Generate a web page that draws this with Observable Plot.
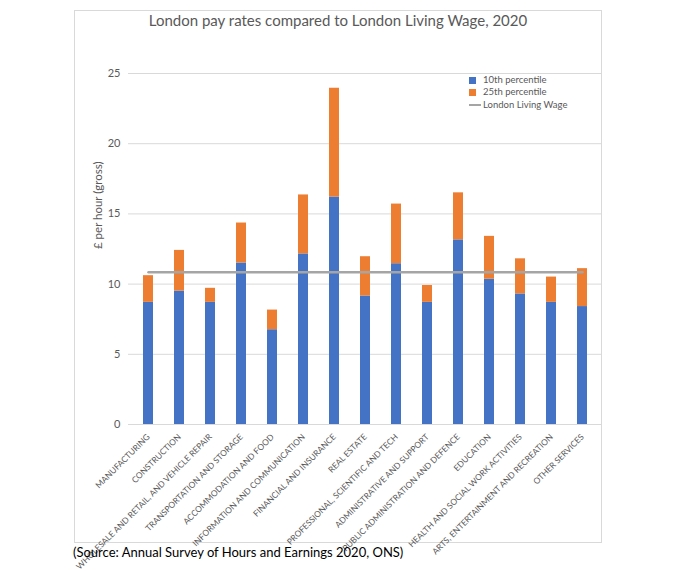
<!DOCTYPE html>
<html>
<head>
<meta charset="utf-8">
<script src="https://cdn.jsdelivr.net/npm/d3@7"></script>
<script src="https://cdn.jsdelivr.net/npm/@observablehq/plot@0.6"></script>
<style>
  body { margin: 0; background: #fff; font-family: Lato, "Open Sans", sans-serif; }
  #wrap { position: relative; width: 675px; height: 571px; overflow: hidden; }
  #frame { position: absolute; left: 74px; top: 10px; width: 528px; height: 533px; border: 1px solid #d9d9d9; box-sizing: border-box; }
  #title { position: absolute; left: 74px; width: 528px; top: 11px; text-align: center; font-size: 15px; color: #595959; }
  #caption { position: absolute; left: 73px; top: 544px; font-size: 13px; color: #000; }
  #legend { position: absolute; left: 469px; top: 74px; font-size: 9.5px; color: #595959; line-height: 12.4px; }
  #legend .row { display: flex; align-items: center; height: 12.4px; }
  #legend .sw { width: 7px; height: 7px; margin-right: 7px; }
  #legend .ln { width: 12px; height: 2.5px; background: #a5a5a5; margin-right: 2px; }
  #chart { position: absolute; left: 0; top: 0; }
</style>
</head>
<body>
<div id="wrap">
  <div id="frame"></div>
  <div id="chart"></div>
  <div id="title">London pay rates compared to London Living Wage, 2020</div>
  <div id="legend"></div>
  <div id="caption">(Source: Annual Survey of Hours and Earnings 2020, ONS)</div>
</div>
<script>
const categories = [
  "MANUFACTURING",
  "CONSTRUCTION",
  "WHOLESALE AND RETAIL, AND VEHICLE REPAIR",
  "TRANSPORTATION AND STORAGE",
  "ACCOMMODATION AND FOOD",
  "INFORMATION AND COMMUNICATION",
  "FINANCIAL AND INSURANCE",
  "REAL ESTATE",
  "PROFESSIONAL, SCIENTIFIC AND TECH",
  "ADMINISTRATIVE AND SUPPORT",
  "PUBLIC ADMINISTRATION AND DEFENCE",
  "EDUCATION",
  "HEALTH AND SOCIAL WORK ACTIVITIES",
  "ARTS, ENTERTAINMENT AND RECREATION",
  "OTHER SERVICES"
];
const p10 = [8.7, 9.5, 8.7, 11.5, 6.75, 12.15, 16.2, 9.15, 11.45, 8.7, 13.15, 10.35, 9.3, 8.7, 8.4];
const p25 = [10.6, 12.4, 9.7, 14.35, 8.15, 16.35, 23.95, 11.95, 15.7, 9.9, 16.5, 13.4, 11.8, 10.5, 11.1];
const livingWage = 10.85;
const yTicks = [0, 5, 10, 15, 20, 25];
const seriesNames = ["10th percentile", "25th percentile", "London Living Wage"];
const colors = ["#4472c4", "#ed7d31", "#a5a5a5"];

const rows = categories.map((c, i) => ({cat: c, p10: p10[i], p25: p25[i], llw: livingWage}));

const chart = Plot.plot({
  width: 675,
  height: 571,
  marginLeft: 128,
  marginRight: 73,
  marginTop: 73,
  marginBottom: 147,
  style: {fontFamily: "Lato, 'Open Sans', sans-serif", background: "transparent", color: "#595959"},
  x: {domain: categories, paddingInner: 0.69, paddingOuter: 0.345},
  y: {domain: [0, 25]},
  marks: [
    Plot.gridY(yTicks, {stroke: "#d9d9d9", strokeOpacity: 1, strokeWidth: 1}),
    Plot.barY(rows, {x: "cat", y1: 0, y2: "p10", fill: colors[0]}),
    Plot.barY(rows, {x: "cat", y1: "p10", y2: "p25", fill: colors[1]}),
    Plot.lineY(rows, {x: "cat", y: "llw", stroke: colors[2], strokeWidth: 2.5}),
    Plot.axisY(yTicks, {tickSize: 0, tickPadding: 8, fontSize: 11, fill: "#595959", label: null}),
    Plot.axisX({tickSize: 0, tickRotate: -45, tickPadding: 11, fontSize: 8.4, fill: "#595959", label: null}),
    Plot.text(["£ per hour (gross)"], {frameAnchor: "left", dx: -30, rotate: -90, fontSize: 11.5, fill: "#595959"})
  ]
});
document.getElementById("chart").appendChild(chart);

const legend = document.getElementById("legend");
seriesNames.forEach((name, i) => {
  const row = document.createElement("div");
  row.className = "row";
  const sw = document.createElement("div");
  if (i < 2) { sw.className = "sw"; sw.style.background = colors[i]; }
  else { sw.className = "ln"; }
  row.appendChild(sw);
  const t = document.createElement("span");
  t.textContent = name;
  row.appendChild(t);
  legend.appendChild(row);
});
</script>
</body>
</html>
